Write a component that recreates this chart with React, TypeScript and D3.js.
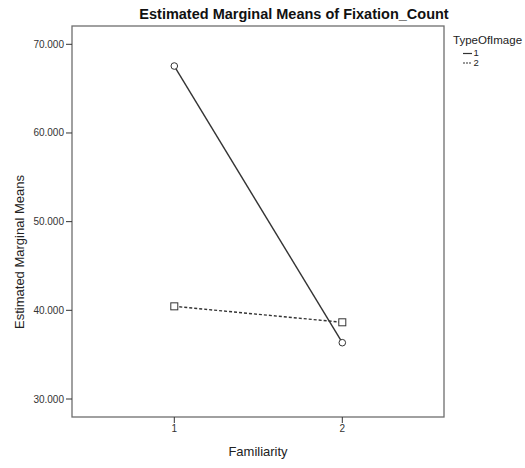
import React from "react";
import * as d3 from "d3";

const familiarity = ["1", "2"];
const type1Values = [67.55, 36.35];
const type2Values = [40.45, 38.65];
const yTicks = [30, 40, 50, 60, 70];
const seriesNames = ["1", "2"];

export default function App() {
  const W = 525, H = 468;
  const left = 72, right = 444, top = 26, bottom = 417;
  const x = d3.scalePoint<string>().domain(familiarity).range([174.3, 342.3]);
  const y = d3.scaleLinear().domain([30, 70]).range([399, 44.3]);
  const line = d3.line<number>().x((_, i) => x(familiarity[i])!).y((d) => y(d));
  const font = "Arial, 'Liberation Sans', sans-serif";
  const dark = "#333";
  return (
    <svg width={W} height={H} style={{ position: "absolute", left: 0, top: 0, background: "#fff" }} fontFamily={font}>
      <rect x={0} y={0} width={W} height={H} fill="#fff" />
      <text x={294} y={19} textAnchor="middle" fontSize={14.5} fontWeight="bold" fill="#111">
        Estimated Marginal Means of Fixation_Count
      </text>
      <rect x={left} y={top} width={right - left} height={bottom - top} fill="none" stroke="#6e6e6e" strokeWidth={1.3} />
      {yTicks.map((t) => (
        <g key={t}>
          <line x1={66} x2={left} y1={y(t)} y2={y(t)} stroke={dark} strokeWidth={1} />
          <text x={64} y={y(t)} dy="0.35em" textAnchor="end" fontSize={10} fill="#333">
            {d3.format(".3f")(t)}
          </text>
        </g>
      ))}
      {familiarity.map((f) => (
        <g key={f}>
          <line x1={x(f)} x2={x(f)} y1={bottom} y2={bottom + 6} stroke={dark} strokeWidth={1} />
          <text x={x(f)} y={bottom + 15} textAnchor="middle" fontSize={10} fill="#333">
            {f}
          </text>
        </g>
      ))}
      <text x={258} y={456} textAnchor="middle" fontSize={13} fill="#222">Familiarity</text>
      <text transform={`translate(24,252) rotate(-90)`} textAnchor="middle" fontSize={13} fill="#222">
        Estimated Marginal Means
      </text>
      <path d={line(type1Values)!} fill="none" stroke={dark} strokeWidth={1.4} />
      <path d={line(type2Values)!} fill="none" stroke={dark} strokeWidth={1.4} strokeDasharray="3,2" />
      {type1Values.map((v, i) => (
        <circle key={i} cx={x(familiarity[i])} cy={y(v)} r={3.3} fill="#fff" stroke={dark} strokeWidth={1} />
      ))}
      {type2Values.map((v, i) => (
        <rect key={i} x={x(familiarity[i])! - 3.5} y={y(v) - 3.5} width={7} height={7} fill="#fff" stroke={dark} strokeWidth={1} />
      ))}
      <text x={453} y={44} fontSize={11.5} fill="#222">TypeOfImage</text>
      {seriesNames.map((s, i) => (
        <g key={s}>
          <line x1={463} x2={472} y1={53.5 + i * 9.5} y2={53.5 + i * 9.5} stroke={dark} strokeWidth={1.2} strokeDasharray={i === 1 ? "2,1" : undefined} />
          <text x={473.5} y={53 + i * 9.5} dy="0.33em" fontSize={9.5} fill="#222">{s}</text>
        </g>
      ))}
    </svg>
  );
}
